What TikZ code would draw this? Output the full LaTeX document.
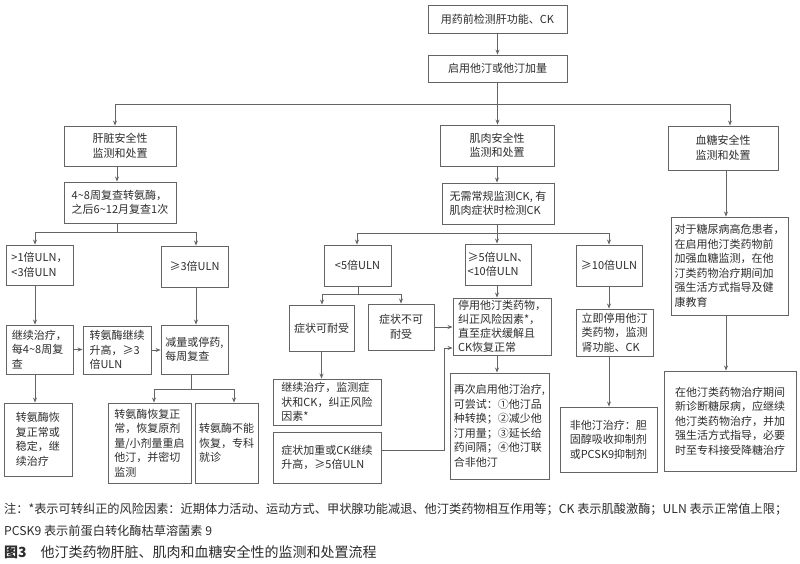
\documentclass[tikz,border=0pt]{standalone}
\usepackage{fontspec}
\setmainfont{Noto Sans CJK SC}
\usetikzlibrary{arrows.meta}
\definecolor{lc}{RGB}{100,100,100}
\definecolor{tc}{RGB}{45,45,45}
\tikzset{
  sz/.style 2 args={minimum width=#1pt,minimum height=#2pt},
  box/.style={draw=lc, line width=0.9pt, inner sep=0pt, text=tc,
    font=\fontsize{11}{14.5}\selectfont, align=left},
  arr/.style={draw=lc, line width=0.9pt, -{Stealth[length=5pt,width=4pt]}},
  ln/.style={draw=lc, line width=0.9pt},
  note/.style={anchor=base west, inner sep=0pt, text=tc}
}
\begin{document}
\begin{tikzpicture}[x=1pt,y=-1pt]
\fill[white] (0,0) rectangle (800,564);
\useasboundingbox (0,0) rectangle (800,564);

% top
\node[box, sz={139}{28}] (top) at (497.5,19) {用药前检测肝功能、CK};
\node[box, sz={139}{27}] (start) at (497.5,68.5) {启用他汀或他汀加量};
\node[box, sz={112}{40}, align=center] (liver) at (120,146) {肝脏安全性\\监测和处置};
\node[box, sz={114}{41}, align=center] (muscle) at (497,145.5) {肌肉安全性\\监测和处置};
\node[box, sz={110}{44}, align=center] (gluc) at (723,148) {血糖安全性\\监测和处置};

% liver branch
\node[box, sz={112}{41}] (livchk) at (120,202.5) {4\textasciitilde8周复查转氨酶，\\之后6\textasciitilde12月复查1次};
\node[box, sz={67}{40}] (l1) at (39.5,265) {>1倍ULN，\\<3倍ULN};
\node[box, sz={67}{41}] (l3) at (194.5,266.5) {≥3倍ULN};
\node[box, sz={67}{49}] (lcont) at (39.5,349.5) {继续治疗，\\每4\textasciitilde8周复\\查};
\node[box, sz={68}{48}] (lrise) at (117,350) {转氨酶继续\\升高，≥3\\倍ULN};
\node[box, sz={67}{49}] (lred) at (194.5,349.5) {减量或停药,\\每周复查};
\node[box, sz={68}{73}] (lok) at (38,439.5) {转氨酶恢\\复正常或\\稳定，继\\续治疗};
\node[box, sz={83}{80}] (lnorm) at (149.5,443) {转氨酶恢复正\\常，恢复原剂\\量/小剂量重启\\他汀，并密切\\监测};
\node[box, sz={63}{80}] (lfail) at (226.5,443) {转氨酶不能\\恢复，专科\\就诊};

% muscle branch
\node[box, sz={112}{41}] (mchk) at (498,203.5) {无需常规监测CK, 有\\肌肉症状时检测CK};
\node[box, sz={67}{41}] (m5) at (357.5,265.5) {<5倍ULN};
\node[box, sz={66}{41}] (m510) at (498,264.5) {≥5倍ULN、\\<10倍ULN};
\node[box, sz={66}{41}] (m10) at (609,265.5) {≥10倍ULN};
\node[box, sz={65}{46}] (mtol) at (321.5,328) {症状可耐受};
\node[box, sz={66}{46}, align=center] (mntol) at (401,327) {症状不可\\耐受};
\node[box, sz={98}{57}, font=\fontsize{11}{13.8}\selectfont] (mstop) at (502,326.5) {停用他汀类药物，\\纠正风险因素*，\\直至症状缓解且\\CK恢复正常};
\node[box, sz={108}{46}] (mcont) at (327,402) {继续治疗，监测症\\状和CK，纠正风险\\因素*};
\node[box, sz={108}{51}] (mworse) at (327,457.5) {症状加重或CK继续\\升高，≥5倍ULN};
\node[box, sz={99}{106}] (mre) at (499.5,426) {再次启用他汀治疗,\\可尝试：①他汀品\\种转换；②减少他\\汀用量；③延长给\\药间隔；④他汀联\\合非他汀};
\node[box, sz={77}{47}] (mimm) at (614.5,332.5) {立即停用他汀\\类药物，监测\\肾功能、CK};
\node[box, sz={97}{65}] (mnon) at (608.5,439.5) {非他汀治疗：胆\\固醇吸收抑制剂\\或PCSK9抑制剂};

% glucose branch
\node[box, sz={117}{98}] (ghigh) at (729.5,266) {对于糖尿病高危患者，\\在启用他汀类药物前\\加强血糖监测，在他\\汀类药物治疗期间加\\强生活方式指导及健\\康教育};
\node[box, sz={132}{100}] (gnew) at (730,421) {在他汀类药物治疗期间\\新诊断糖尿病，应继续\\他汀类药物治疗，并加\\强生活方式指导，必要\\时至专科接受降糖治疗};

% junction coordinates
\coordinate (sp) at (497.5,104);
\coordinate (spL) at (115,104);
\coordinate (spR) at (730,104);
\coordinate (ls) at (117,232);
\coordinate (lsL) at (35,232);
\coordinate (lsR) at (196,232);
\coordinate (lb) at (191,389);
\coordinate (lbL) at (154,389);
\coordinate (lbR) at (234,389);
\coordinate (ms) at (497,233);
\coordinate (msL) at (357,233);
\coordinate (msR) at (609,233);
\coordinate (m5s) at (358,294);
\coordinate (m5L) at (322,294);
\coordinate (m5R) at (401,294);
\coordinate (wj) at (444,450);
\coordinate (sj) at (444,348);
\coordinate (gx) at (726,0);

% connectors
\draw[arr] (top) -- (start);
\draw[ln] (start.south) -- (sp);
\draw[ln] (spL) -- (spR);
\draw[arr] (spL) -- (spL |- liver.north);
\draw[arr] (sp) -- (sp |- muscle.north);
\draw[arr] (spR) -- (spR |- gluc.north);

\draw[arr] (liver.south -| ls) -- (ls |- livchk.north);
\draw[ln] (livchk.south -| ls) -- (ls);
\draw[ln] (lsL) -- (lsR);
\draw[arr] (lsL) -- (lsL |- l1.north);
\draw[arr] (lsR) -- (lsR |- l3.north);
\draw[arr] (l1.south -| lsL) -- (lsL |- lcont.north);
\draw[arr] (l3.south -| lsR) -- (lsR |- lred.north);
\draw[arr] (lcont.east) -- (lcont.east -| lrise.west);
\draw[arr] (lrise.east) -- (lrise.east -| lred.west);
\draw[arr] (lcont.south -| lsL) -- (lsL |- lok.north);
\draw[ln] (lred.south -| lb) -- (lb);
\draw[ln] (lbL) -- (lbR);
\draw[arr] (lbL) -- (lbL |- lnorm.north);
\draw[arr] (lbR) -- (lbR |- lfail.north);

\draw[arr] (muscle.south -| ms) -- (ms |- mchk.north);
\draw[ln] (mchk.south -| ms) -- (ms);
\draw[ln] (msL) -- (msR);
\draw[arr] (msL) -- (msL |- m5.north);
\draw[arr] (ms) -- (ms |- m510.north);
\draw[arr] (msR) -- (msR |- m10.north);
\draw[ln] (m5.south -| m5s) -- (m5s);
\draw[ln] (m5L) -- (m5R);
\draw[arr] (m5L) -- (m5L |- mtol.north);
\draw[arr] (m5R) -- (m5R |- mntol.north);
\draw[arr] (mntol.east) -- (mntol.east -| mstop.west);
\draw[arr] (m510.south -| ms) -- (ms |- mstop.north);
\draw[arr] (mstop.south -| ms) -- (ms |- mre.north);
\draw[arr] (mtol.south) -- (mtol.south |- mcont.north);
\draw[arr] (wj -| mworse.east) -- (wj) -- (sj) -- (sj -| mstop.west);
\draw[arr] (m10.south -| msR) -- (msR |- mimm.north);
\draw[arr] (mimm.south -| msR) -- (msR |- mnon.north);

\draw[arr] (gluc.south -| gx) -- (gx |- ghigh.north);
\draw[arr] (ghigh.south -| gx) -- (gx |- gnew.north);

% notes
\node[note, font=\fontsize{12.2}{15}\selectfont] (fn1) at (4,513) {注：*表示可转纠正的风险因素：近期体力活动、运动方式、甲状腺功能减退、他汀类药物相互作用等；CK 表示肌酸激酶；ULN 表示正常值上限；};
\node[note, font=\fontsize{12.2}{15}\selectfont] (fn2) at (4,535) {PCSK9 表示前蛋白转化酶枯草溶菌素 9};
\node[note, font=\fontsize{14}{16}\selectfont] (cap) at (4,557) {\textbf{图3}\hspace{14pt}他汀类药物肝脏、肌肉和血糖安全性的监测和处置流程};
\end{tikzpicture}
\end{document}
